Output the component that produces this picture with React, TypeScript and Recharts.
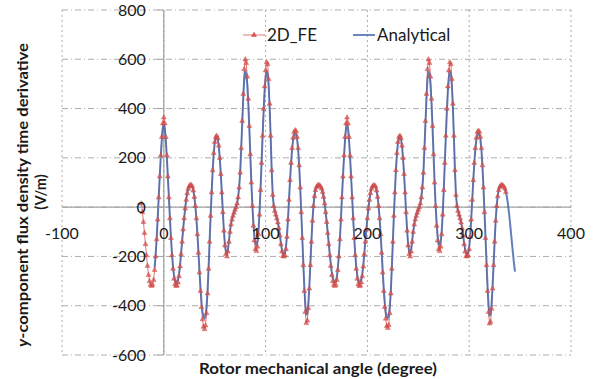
import {
  LineChart,
  Line,
  XAxis,
  YAxis,
  CartesianGrid,
  ReferenceLine,
} from "recharts";

// 2D_FE samples, one per degree starting at FE_START
const FE_START = -22;
const feValues = [
  15, -20, -60, -105, -150, -195, -238, -275, -300, -315, -320, -315, -295, -255, -200, -130, -50, 40, 125, 210, 285, 340,
  364, 340, 285, 210, 125, 40, -45, -125, -195, -250,
  -290, -312, -320, -318, -305, -280, -240, -190, -140, -90,
  -45, -5, 30, 57, 75, 86, 90, 90, 84, 68,
  42, 5, -45, -110, -185, -265, -340, -405, -455, -485,
  -495, -480, -430, -350, -250, -140, -35, 60, 150, 220,
  265, 285, 290, 280, 250, 200, 135, 60, -20, -95,
  -155, -190, -200, -180, -140, -100, -70, -50, -35, -22,
  -10, 0, 15, 40, 80, 140, 240, 350, 460, 560,
  600, 585, 530, 440, 330, 215, 100, 5, -75, -135,
  -170, -178, -160, -110, -30, 70, 180, 290, 400, 490,
  555, 588, 580, 520, 420, 290, 150, 50, 5, -15,
  -30, -45, -62, -85, -115, -150, -180, -198, -200, -195,
  -170, -120, -50, 30, 110, 180, 240, 282, 305, 312,
  308, 285, 240, 170, 80, -20, -125, -235, -340, -425,
  -470, -460, -410, -330, -235, -140, -55, 5, 45, 70,
  82, 88, 90, 88, 84, 76, 62, 42, 15, -20,
  -60, -105, -150, -195, -238, -275, -300, -315, -320, -315,
  -295, -255, -200, -130, -50, 40, 125, 210, 285, 340,
  364, 340, 285, 210, 125, 40, -45, -125, -195, -250,
  -290, -312, -320, -318, -305, -280, -240, -190, -140, -90,
  -45, -5, 30, 57, 75, 85, 88, 88, 84, 68,
  42, 5, -45, -110, -185, -265, -340, -405, -452, -482,
  -490, -478, -430, -350, -250, -140, -35, 60, 150, 220,
  265, 285, 290, 280, 250, 200, 135, 60, -20, -95,
  -155, -190, -200, -180, -140, -100, -70, -50, -35, -22,
  -10, 0, 15, 40, 80, 140, 240, 350, 460, 560,
  600, 585, 530, 440, 330, 215, 100, 5, -75, -135,
  -170, -178, -160, -110, -30, 70, 180, 290, 400, 490,
  555, 588, 580, 520, 420, 290, 150, 50, 5, -15,
  -30, -45, -62, -85, -115, -150, -180, -198, -200, -195,
  -170, -120, -50, 30, 110, 180, 240, 282, 305, 310,
  306, 285, 240, 170, 80, -20, -125, -235, -340, -425,
  -472, -465, -412, -330, -235, -140, -55, 5, 45, 70,
  82, 88, 90, 88, 84, 76, 62,
];

// Analytical samples, one per degree starting at ANALYTICAL_START
const ANALYTICAL_START = -9;
const analyticalValues = [
  -245, -192, -125, -48, 40, 122, 202, 270, 318,
  335, 315, 268, 200, 122, 40, -42, -120, -185, -238,
  -275, -296, -305, -302, -292, -270, -234, -186, -138, -90,
  -45, -5, 30, 57, 75, 86, 90, 90, 84, 68,
  42, 5, -45, -108, -180, -255, -325, -385, -425, -445,
  -450, -440, -405, -340, -245, -140, -35, 60, 148, 216,
  260, 280, 285, 276, 248, 198, 134, 60, -20, -92,
  -150, -180, -188, -172, -136, -98, -70, -50, -35, -22,
  -10, 0, 15, 40, 80, 138, 232, 335, 435, 520,
  552, 540, 495, 420, 320, 210, 100, 8, -65, -118,
  -148, -155, -140, -98, -25, 70, 175, 280, 380, 465,
  525, 550, 542, 490, 400, 280, 148, 50, 5, -15,
  -30, -45, -62, -85, -112, -145, -172, -186, -190, -185,
  -162, -115, -48, 30, 108, 176, 234, 272, 292, 298,
  294, 274, 232, 166, 80, -18, -118, -222, -318, -395,
  -435, -432, -390, -318, -228, -138, -55, 5, 45, 70,
  82, 88, 90, 88, 84, 76, 62, 42, 15, -20,
  -60, -102, -145, -188, -228, -262, -286, -300, -305, -300,
  -282, -245, -192, -125, -48, 40, 122, 202, 270, 318,
  335, 315, 268, 200, 122, 40, -42, -120, -185, -238,
  -275, -296, -305, -302, -292, -270, -234, -186, -138, -90,
  -45, -5, 30, 57, 75, 85, 88, 88, 84, 68,
  42, 5, -45, -108, -180, -255, -325, -385, -425, -445,
  -450, -440, -405, -340, -245, -140, -35, 60, 148, 216,
  260, 280, 285, 276, 248, 198, 134, 60, -20, -92,
  -150, -180, -188, -172, -136, -98, -70, -50, -35, -22,
  -10, 0, 15, 40, 80, 138, 232, 335, 435, 520,
  552, 540, 495, 420, 320, 210, 100, 8, -65, -118,
  -148, -155, -140, -98, -25, 70, 175, 280, 380, 465,
  525, 550, 542, 490, 400, 280, 148, 50, 5, -15,
  -30, -45, -62, -85, -112, -145, -172, -186, -190, -185,
  -162, -115, -48, 30, 108, 176, 234, 272, 292, 298,
  294, 274, 232, 166, 80, -18, -118, -222, -318, -395,
  -438, -435, -392, -318, -228, -138, -55, 5, 45, 70,
  82, 88, 90, 88, 84, 76, 62, 42, 15, -20,
  -60, -102, -145, -188, -228, -262,
];

const xTicks = [-100, 0, 100, 200, 300, 400];
const yTicks = [-600, -400, -200, 0, 200, 400, 600, 800];

const W = 601;
const H = 379;
const MARGIN = { top: 10, right: 30, bottom: 20, left: 58 };
const AXIS_W = 4;
const AXIS_H = 4;
const PLOT_LEFT = MARGIN.left + AXIS_W;
const PW = W - PLOT_LEFT - MARGIN.right;
const PH = H - MARGIN.top - MARGIN.bottom - AXIS_H;
const ZERO_X = PLOT_LEFT + (PW * 100) / 500;
const ZERO_Y = MARGIN.top + (PH * 800) / 1400;

const FONT = "Lato, 'DejaVu Sans', sans-serif";
const FE_COLOR = "#c8443f";
const AN_COLOR = "#4668ad";

const rows: { angle: number; fe: number | null; analytical: number | null }[] = [];
const firstX = Math.min(FE_START, ANALYTICAL_START);
const lastX = Math.max(
  FE_START + feValues.length - 1,
  ANALYTICAL_START + analyticalValues.length - 1
);
for (let x = firstX; x <= lastX; x++) {
  const fi = x - FE_START;
  const ai = x - ANALYTICAL_START;
  rows.push({
    angle: x,
    fe: fi >= 0 && fi < feValues.length ? feValues[fi] : null,
    analytical: ai >= 0 && ai < analyticalValues.length ? analyticalValues[ai] : null,
  });
}

const renderTriangle = (props: any) => {
  const { cx, cy, value, index } = props;
  if (cx == null || cy == null || value == null) return <g key={`t${index}`} />;
  return (
    <path
      key={`t${index}`}
      d={`M${cx},${cy - 2.8}L${cx + 2.4},${cy + 1.6}L${cx - 2.4},${cy + 1.6}Z`}
      fill="#d9534f"
      fillOpacity={0.75}
      stroke={FE_COLOR}
      strokeOpacity={0.8}
      strokeWidth={0.5}
    />
  );
};

const renderYTick = (props: any) => {
  const { y, payload, index } = props;
  return (
    <g key={`y${index}`}>
      <line x1={ZERO_X - 6} x2={ZERO_X} y1={y} y2={y} stroke="#a0a0a0" />
      <text
        x={ZERO_X - 18}
        y={y}
        dy={5.5}
        textAnchor="end"
        fontSize={16}
        fontFamily={FONT}
        fill="#1a1a1a">
        {payload.value}
      </text>
    </g>
  );
};

const renderXTick = (props: any) => {
  const { x, payload, index } = props;
  return (
    <text
      key={`x${index}`}
      x={x}
      y={ZERO_Y + 26}
      dy={5.5}
      textAnchor="middle"
      fontSize={16}
      fontFamily={FONT}
      fill="#1a1a1a">
      {payload.value}
    </text>
  );
};

export default function App() {
  return (
    <div style={{ position: "absolute", left: 0, top: 0, width: W, height: H, background: "#fff" }}>
      <LineChart width={W} height={H} data={rows} margin={MARGIN}>
        <CartesianGrid vertical={false} stroke="#acacac" strokeDasharray="6 3 1 3" />
        <CartesianGrid horizontal={false} stroke="#acacac" strokeDasharray="2 3" />
        <ReferenceLine x={0} stroke="#a3a3a3" strokeWidth={1.3} />
        <ReferenceLine y={0} stroke="#a3a3a3" strokeWidth={1.3} />
        <Line
          dataKey="fe"
          type="linear"
          stroke="#dc7672"
          strokeWidth={1}
          dot={renderTriangle}
          activeDot={false}
          isAnimationActive={false}
        />
        <Line
          dataKey="analytical"
          type="linear"
          stroke={AN_COLOR}
          strokeWidth={2}
          strokeOpacity={0.85}
          dot={false}
          activeDot={false}
          isAnimationActive={false}
        />
        <XAxis
          type="number"
          dataKey="angle"
          domain={[-100, 400]}
          ticks={xTicks}
          interval={0}
          height={AXIS_H}
          axisLine={false}
          tickLine={false}
          tick={renderXTick}
        />
        <YAxis
          type="number"
          domain={[-600, 800]}
          ticks={yTicks}
          interval={0}
          width={AXIS_W}
          axisLine={false}
          tickLine={false}
          tick={renderYTick}
        />
      </LineChart>
      <svg
        width={W}
        height={H}
        style={{ position: "absolute", left: 0, top: 0, pointerEvents: "none" }}>
        <g fontFamily={FONT} fill="#1a1a1a">
          <line x1={243} x2={265} y1={35} y2={35} stroke="#dc7672" strokeWidth={1} />
          <path d="M254,32.2L256.4,36.6L251.6,36.6Z" fill="#d9534f" stroke={FE_COLOR} strokeWidth={0.5} />
          <text x={267} y={41} fontSize={17}>2D_FE</text>
          <line x1={353} x2={375} y1={35} y2={35} stroke={AN_COLOR} strokeWidth={1.6} />
          <text x={377} y={41} fontSize={17}>Analytical</text>
          <text
            x={199}
            y={374}
            fontSize={15}
            fontWeight="bold"
            textLength={238}
            lengthAdjust="spacingAndGlyphs">
            Rotor mechanical angle (degree)
          </text>
          <text
            transform="translate(28,347) rotate(-90)"
            fontSize={14.5}
            fontWeight="bold"
            textLength={304}
            lengthAdjust="spacingAndGlyphs">
            <tspan fontStyle="italic">y</tspan>-component flux density time derivative
          </text>
          <text
            transform="translate(46,192) rotate(-90)"
            fontSize={14.5}
            fontWeight="bold"
            textAnchor="middle">
            (V/m)
          </text>
        </g>
      </svg>
    </div>
  );
}
